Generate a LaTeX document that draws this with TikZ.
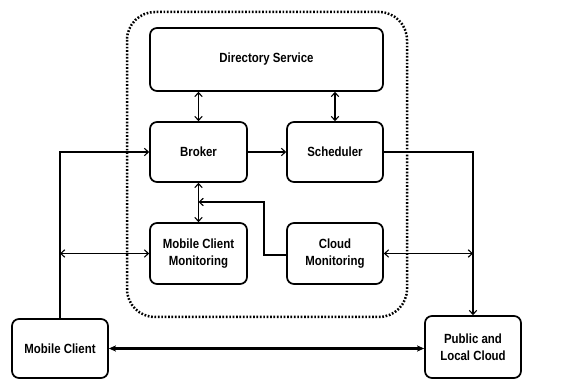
\documentclass[tikz,border=0pt]{standalone}
\usepackage{fontspec}
\setmainfont[FakeStretch=0.86]{Liberation Sans}
\usetikzlibrary{arrows.meta}
\begin{document}
\begin{tikzpicture}[x=1pt,y=-1pt,
  box/.style={draw,line width=1.7pt,rounded corners=7pt,align=center,inner sep=0pt,font=\fontsize{13.3}{17}\selectfont\bfseries},
  conn/.style={line width=1.1pt,{Straight Barb[length=4pt,width=7.5pt]}-{Straight Barb[length=4pt,width=7.5pt]}},
  oneway/.style={line width=1.1pt,-{Straight Barb[length=4pt,width=7.5pt]}},
  thickconn/.style={line width=2.6pt,{Stealth[length=7pt,width=6pt,inset=1.5pt]}-{Stealth[length=7pt,width=6pt,inset=1.5pt]}}
]
\useasboundingbox (0,0) rectangle (587,379);
\draw[line width=2.5pt,dash pattern=on 1.7pt off 1.7pt,rounded corners=28pt] (127,12) rectangle (407,317);
\node[box,minimum width=233pt,minimum height=63pt] (dir) at (266.5,59.5) {Directory Service};
\node[box,minimum width=97pt,minimum height=60pt] (broker) at (198.5,152) {Broker};
\node[box,minimum width=96pt,minimum height=60pt] (sched) at (335,152) {Scheduler};
\node[box,minimum width=97pt,minimum height=61pt] (mcm) at (198.5,253.5) {Mobile Client\\Monitoring};
\node[box,minimum width=96pt,minimum height=61pt] (cm) at (335,253.5) {Cloud\\Monitoring};
\node[box,minimum width=96pt,minimum height=59pt] (mc) at (60,348.5) {Mobile Client};
\node[box,minimum width=96pt,minimum height=62pt] (pc) at (473,347) {Public and\\Local Cloud};
\coordinate (bend1) at (264,255);
\coordinate (bend2) at (264,202);
\coordinate (hit) at (198.5,202);
\draw[conn] (broker.north |- dir.south) -- (broker.north);
\draw[conn] (sched.north |- dir.south) -- (sched.north);
\draw[oneway] (broker.east) -- (sched.west);
\draw[conn] (broker.south) -- (mcm.north);
\draw[oneway] (cm.west |- bend1) -- (bend1) -- (bend2) -- (hit);
\draw[oneway] (mc.north) |- (broker.west);
\draw[oneway] (sched.east) -| (pc.north);
\draw[conn] (mc.north |- mcm.west) -- (mcm.west);
\draw[conn] (cm.east) -- (pc.north |- cm.east);
\draw[thickconn] (mc.east) -- (pc.west |- mc.east);
\end{tikzpicture}
\end{document}
